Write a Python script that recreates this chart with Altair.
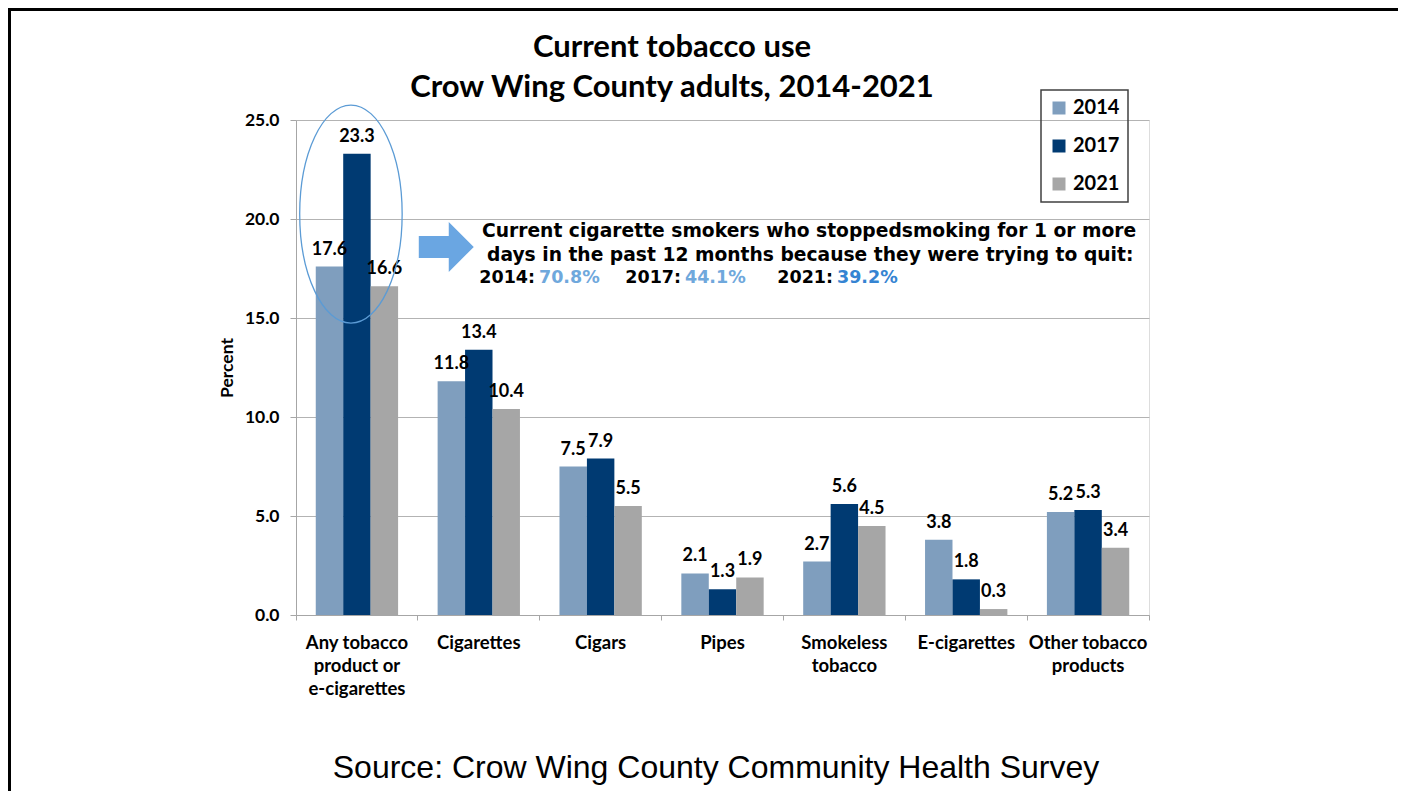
import altair as alt
import pandas as pd

# ---- data ----
years = ["2014", "2017", "2021"]
categories = [
    "Any tobacco|product or|e-cigarettes",
    "Cigarettes",
    "Cigars",
    "Pipes",
    "Smokeless|tobacco",
    "E-cigarettes",
    "Other tobacco|products",
]
v2014 = [17.6, 11.8, 7.5, 2.1, 2.7, 3.8, 5.2]
v2017 = [23.3, 13.4, 7.9, 1.3, 5.6, 1.8, 5.3]
v2021 = [16.6, 10.4, 5.5, 1.9, 4.5, 0.3, 3.4]
colors = ["#7F9EBE", "#003A72", "#A6A6A6"]
y_ticks = [0, 5, 10, 15, 20, 25]

title_lines = ["Current tobacco use", "Crow Wing County adults, 2014-2021"]
note_line1 = "Current cigarette smokers who stoppedsmoking for 1 or more"
note_line2 = "days in the past 12 months because they were trying to quit:"
note_years = ["2014:", "2017:", "2021:"]
note_pcts = ["70.8%", "44.1%", "39.2%"]
note_pct_colors = ["#6FA8DC", "#6FA8DC", "#3584D2"]
source_text = "Source: Crow Wing County Community Health Survey"

rows = []
for series, vals in zip(years, [v2014, v2017, v2021]):
    for c, v in zip(categories, vals):
        rows.append({"category": c, "year": series, "value": v})
df = pd.DataFrame(rows)

W, H = 853, 495
LBL = "Lato"

x_enc = alt.X(
    "category:N",
    sort=categories,
    scale=alt.Scale(domain=categories, paddingInner=0, paddingOuter=0),
    axis=alt.Axis(
        title=None,
        labelExpr="split(datum.label, '|')",
        labelFont=LBL, labelFontSize=18.5, labelFontWeight="bold", labelColor="#000",
        labelLineHeight=23, labelPadding=13, labelBaseline="top",
        labelAngle=0,
        domainColor="#A6A6A6", tickColor="#A6A6A6", tickSize=5,
        bandPosition=1, tickExtra=True, grid=False,
    ),
)
xo_enc = alt.XOffset("year:N", sort=years,
                     scale=alt.Scale(domain=years, paddingInner=0, paddingOuter=0.72))
y_enc = alt.Y(
    "value:Q",
    scale=alt.Scale(domain=[0, 25], nice=False),
    axis=alt.Axis(
        values=y_ticks, format=".1f", title="Percent",
        titleFont=LBL, titleFontSize=17.5, titleFontWeight="bold", titleColor="#000",
        titleX=-69, titleY=H / 2, titleAlign="center", titleBaseline="middle", titleAngle=-90,
        labelFont=LBL, labelFontSize=17.5, labelFontWeight="bold", labelColor="#000",
        labelPadding=11,
        domainColor="#A6A6A6", tickColor="#A6A6A6", tickSize=6,
        grid=True, gridColor="#B3B3B3", gridWidth=1,
    ),
)

bars = alt.Chart(df).mark_bar().encode(
    x=x_enc, xOffset=xo_enc, y=y_enc,
    color=alt.Color(
        "year:N",
        scale=alt.Scale(domain=years, range=colors),
        legend=alt.Legend(
            title=None, orient="none", legendX=745, legendY=-30,
            symbolType="square", symbolSize=169, symbolStrokeWidth=0,
            labelFont=LBL, labelFontSize=20, labelFontWeight="bold", labelColor="#000",
            labelOffset=4, rowPadding=18, padding=8,
            strokeColor="#404040",
        ),
    ),
)

labels = alt.Chart(df).mark_text(
    font=LBL, fontSize=18, fontWeight="bold", color="#000", baseline="middle", dy=-17
).encode(x=x_enc, xOffset=xo_enc, y=y_enc, text=alt.Text("value:Q", format=".1f"))

ell_df = pd.DataFrame({"category": [categories[0]], "value": [20.25]})
ellipse = alt.Chart(ell_df).mark_point(
    shape="M -0.47 0 A 0.47 1 0 1 0 0.47 0 A 0.47 1 0 1 0 -0.47 0 Z",
    size=47524, filled=False, stroke="#5B9BD5", strokeWidth=1.3, opacity=1, xOffset=-6,
).encode(x=alt.X("category:N", sort=categories), y=alt.Y("value:Q"))

arr_df = pd.DataFrame({"category": [categories[1]], "value": [18.59]})
arrow = alt.Chart(arr_df).mark_point(
    shape="M -1 -0.4 L 0.09 -0.4 L 0.09 -0.91 L 1 0 L 0.09 0.91 L 0.09 0.4 L -1 0.4 Z",
    size=3025, filled=True, fill="#6AA6E2", strokeWidth=0, opacity=1, xOffset=-32.5,
).encode(x=alt.X("category:N", sort=categories), y=alt.Y("value:Q"))

NOTE_FONT = "DejaVu Sans"
def note(text, x, y, color="#000", align="left", size=18.7):
    return alt.Chart(pd.DataFrame({"t": [text]})).mark_text(
        font=NOTE_FONT, fontSize=size, fontWeight="bold", color=color,
        align=align, baseline="middle",
    ).encode(x=alt.value(x), y=alt.value(y), text="t:N")

notes = [
    note(note_line1, 186, 111),
    note(note_line2, 191, 135),
]
for lab, pct, pc, xp in zip(note_years, note_pcts, note_pct_colors, [243, 389, 541]):
    notes.append(note(lab, xp - 4, 158, align="right", size=17.5))
    notes.append(note(pct, xp, 158, pc, size=17.5))

title = alt.Chart(pd.DataFrame({"t": [title_lines]})).mark_text(
    font=LBL, fontSize=31, fontWeight="bold", color="#000",
    align="center", baseline="middle", lineHeight=40,
).encode(x=alt.value(376), y=alt.value(-72), text="t")

source = alt.Chart(pd.DataFrame({"t": [source_text]})).mark_text(
    font="Liberation Sans", fontSize=32, color="#000", align="center", baseline="middle",
).encode(x=alt.value(420), y=alt.value(648), text="t:N")

one = pd.DataFrame({"a": [0]})
frame_left = alt.Chart(one).mark_rule(color="#000", strokeWidth=3).encode(
    x=alt.value(-286.5), y=alt.value(-110.5), y2=alt.value(700))
frame_top = alt.Chart(one).mark_rule(color="#000", strokeWidth=3).encode(
    x=alt.value(-288), x2=alt.value(1110), y=alt.value(-110.5))

chart = alt.layer(
    bars, labels, ellipse, arrow, *notes, title, source, frame_left, frame_top
).properties(
    width=W, height=H,
    autosize=alt.AutoSizeParams(type="none"),
    padding={"left": 288, "top": 112, "right": 249, "bottom": 176},
).configure_view(stroke=None).configure(background="#ffffff").configure_legend(strokeWidth=1.5)

chart.save("out.html", embed_options={"renderer": "svg", "actions": False})
